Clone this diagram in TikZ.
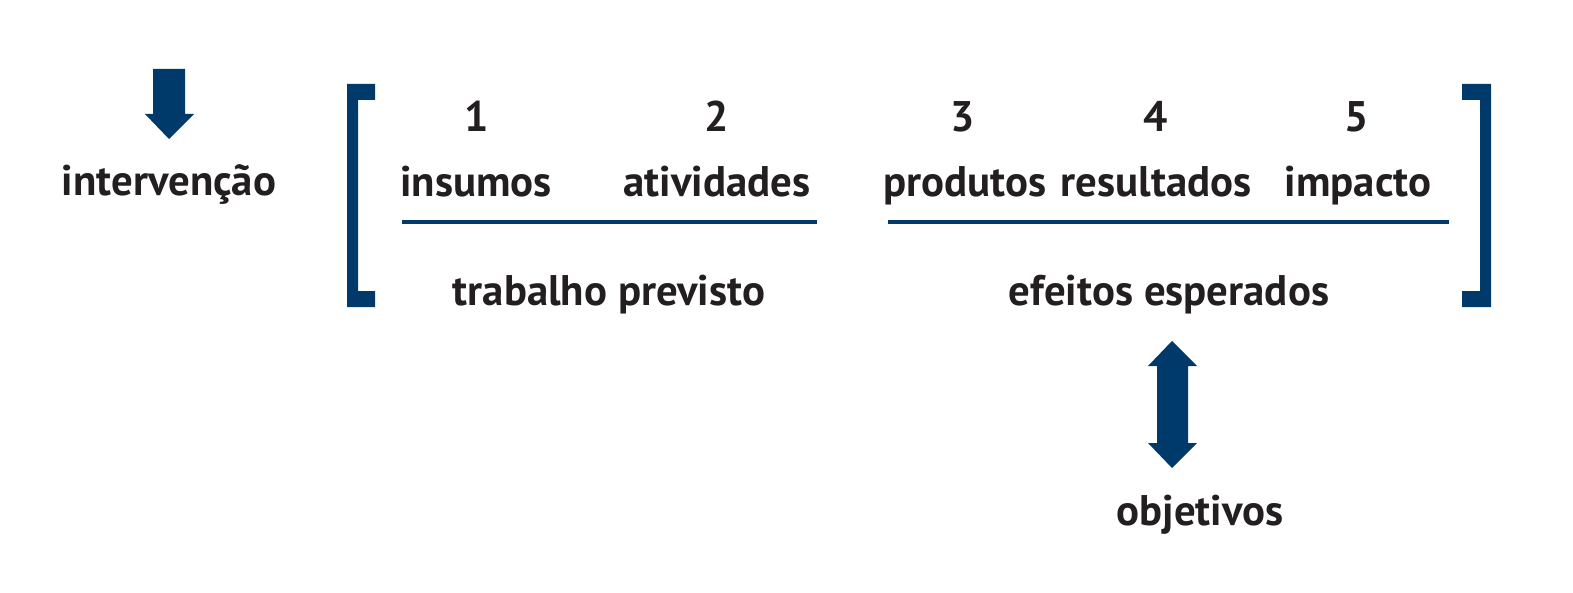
\documentclass[tikz,border=0pt]{standalone}
\usepackage{fontspec}
\setmainfont{PT Sans}
\definecolor{azul}{RGB}{0,58,106}
\definecolor{texto}{RGB}{35,31,32}
\tikzset{rotulo/.style={font=\bfseries\fontsize{21.4}{26}\selectfont,text=texto,anchor=base,inner sep=0pt}}
\begin{document}
\begin{tikzpicture}[x=0.5pt,y=-0.5pt]
        \useasboundingbox (0,0) rectangle (1573,593);
        % setas
        \fill[azul] (153,69) -- (185,69) -- (185,114) -- (194,114) -- (169,139) -- (145,114) -- (153,114) -- cycle;
        \fill[azul] (1172,341) -- (1197,366) -- (1188,366) -- (1188,443) -- (1197,443) -- (1172,468) -- (1148,443) -- (1157,443) -- (1157,366) -- (1148,366) -- cycle;
        % colchetes
        \fill[azul] (347,84) -- (375,84) -- (375,100) -- (358,100) -- (358,291) -- (375,291) -- (375,307) -- (347,307) -- cycle;
        \fill[azul] (1491,84) -- (1462,84) -- (1462,100) -- (1480,100) -- (1480,291) -- (1462,291) -- (1462,307) -- (1491,307) -- cycle;
        \draw[azul,line width=2pt] (402,222) -- (817,222);
        \draw[azul,line width=2pt] (888,222) -- (1449,222);
        \node[rotulo] (intervencao) at (169,196) {intervenção};
        \node[rotulo] (n1) at (477,132) {1};
        \node[rotulo] (n2) at (717,132) {2};
        \node[rotulo] (n3) at (963,132) {3};
        \node[rotulo] (n4) at (1156,132) {4};
        \node[rotulo] (n5) at (1357,132) {5};
        \node[rotulo] (insumos) at (476,197) {insumos};
        \node[rotulo] (atividades) at (717,197) {atividades};
        \node[rotulo] (produtos) at (965,197) {produtos};
        \node[rotulo] (resultados) at (1156,197) {resultados};
        \node[rotulo] (impacto) at (1358,197) {impacto};
        \node[rotulo] (trabalho) at (609,306) {trabalho previsto};
        \node[rotulo] (efeitos) at (1169,306) {efeitos esperados};
        \node[rotulo] (objetivos) at (1200,525) {objetivos};
\end{tikzpicture}
\end{document}
